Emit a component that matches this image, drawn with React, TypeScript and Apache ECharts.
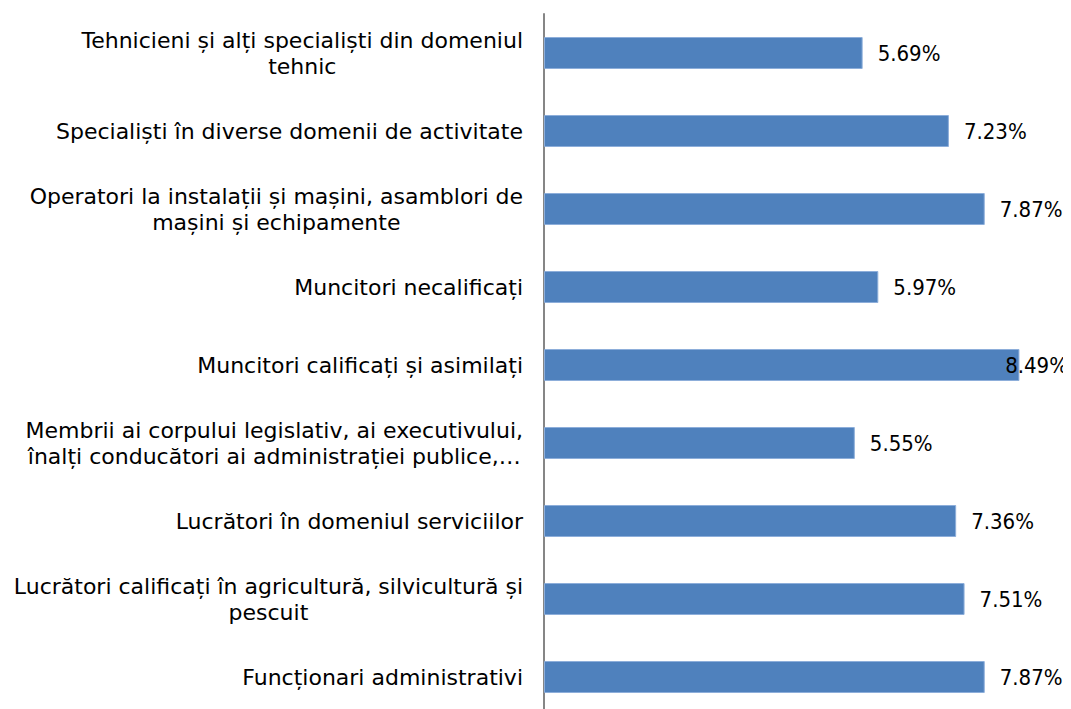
import React, { useEffect, useRef } from "react";
import * as echarts from "echarts";

const categories: string[] = [
  "Tehnicieni și alți specialiști din domeniul\ntehnic",
  "Specialiști în diverse domenii de activitate",
  "Operatori la instalații și mașini, asamblori de\nmașini și echipamente",
  "Muncitori necalificați",
  "Muncitori calificați și asimilați",
  "Membrii ai corpului legislativ, ai executivului,\nînalți conducători ai administrației publice,…",
  "Lucrători în domeniul serviciilor",
  "Lucrători calificați în agricultură, silvicultură și\npescuit",
  "Funcționari administrativi",
];

const values: number[] = [5.69, 7.23, 7.87, 5.97, 8.49, 5.55, 7.36, 7.51, 7.87];

const CAT_FONT = "'DejaVu Sans', sans-serif";
const VAL_FONT = "'DejaVu Sans Condensed', 'DejaVu Sans', sans-serif";

export default function App() {
  const ref = useRef<HTMLDivElement>(null);
  useEffect(() => {
    if (!ref.current) return;
    const chart = echarts.init(ref.current, null, { renderer: "svg" });
    chart.setOption({
      animation: false,
      backgroundColor: "#ffffff",
      grid: { left: 536, top: 6, width: 504, height: 702, containLabel: false },
      xAxis: {
        type: "value",
        min: 0,
        max: 9,
        show: false,
        splitLine: { show: false },
      },
      yAxis: {
        type: "category",
        inverse: true,
        data: categories,
        axisLine: { show: true, lineStyle: { color: "#868686", width: 2 } },
        axisTick: { show: false },
        axisLabel: {
          margin: 21,
          align: "right",
          formatter: (v: string) =>
            v
              .split("\n")
              .map((l) => `{c|${l}}`)
              .join("\n"),
          rich: {
            c: {
              align: "center",
              fontSize: 22,
              lineHeight: 26,
              fontFamily: CAT_FONT,
              color: "#000000",
            },
          },
        },
      },
      series: [
        {
          type: "bar",
          data: values,
          barWidth: 32,
          itemStyle: { color: "#4F81BD", borderColor: "#8DAEDA", borderWidth: 1 },
          label: {
            show: true,
            position: "right",
            distance: 15,
            formatter: (p: any) => `${p.value.toFixed(2)}%`,
            fontSize: 22,
            fontFamily: VAL_FONT,
            color: "#000000",
          },
          labelLayout: (params: any) => {
            const r = params.labelRect;
            const limit = 1060;
            if (r.x + r.width > limit) {
              return {
                x: limit - r.width,
                y: r.y + r.height / 2,
                align: "left",
                verticalAlign: "middle",
              };
            }
            return {};
          },
        },
      ],
    });
    return () => chart.dispose();
  }, []);
  return <div ref={ref} style={{ width: 1071, height: 709 }} />;
}
